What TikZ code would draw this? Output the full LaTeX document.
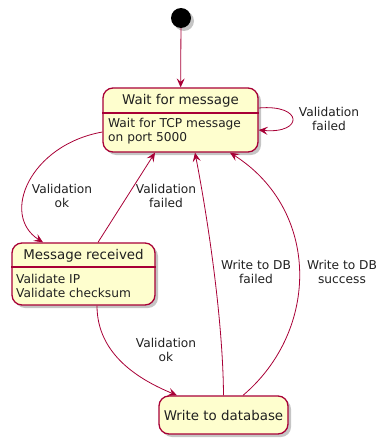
\documentclass[tikz,border=0pt]{standalone}
\usepackage{fontspec}
\setmainfont{DejaVu Sans}
\usepackage{xcolor}
\usepackage{tikz}
\usetikzlibrary{arrows.meta,shadows,calc}
\definecolor{umlred}{HTML}{A80036}
\definecolor{umlfill}{HTML}{FEFECE}
\definecolor{umltext}{HTML}{202020}

\begin{document}
\begin{tikzpicture}[x=1pt,y=-1pt]
                \tikzstyle{state} = [draw=umlred, line width=1.3pt, fill=umlfill, rounded corners=10pt, inner sep=0pt,
                                     drop shadow={shadow xshift=3pt, shadow yshift=-3pt, fill=black!45, opacity=0.5}]
                \tikzstyle{title} = [inner sep=0pt, text=umltext, font=\fontsize{13.4}{15}\selectfont]
                \tikzstyle{body} = [inner sep=0pt, anchor=west, align=left, text=umltext, font=\fontsize{12.2}{14}\selectfont]
                \tikzstyle{lbl} = [inner sep=0pt, align=center, text=umltext, font=\fontsize{12.2}{14}\selectfont]
                \tikzstyle{trans} = [draw=umlred, line width=0.8pt, -{Stealth[length=9pt,width=8pt,inset=3.5pt]}]

                \useasboundingbox (0,0) rectangle (376,439);

                \node [circle, fill=black, minimum size=20pt, inner sep=0pt,
                       drop shadow={shadow xshift=3pt, shadow yshift=-3pt, fill=black!45, opacity=0.5}] (start) at (181,18) {};

                \node [state, minimum width=155pt, minimum height=64pt] (wait) at (180.5,120) {};
                \draw [umlred, line width=1.3pt] (wait.west |- 0,113) -- (wait.east |- 0,113);
                \node [title] (wait-title) at (180.5,100.5) {Wait for message};
                \node [body] (wait-body) at (108,131.5) {Wait for TCP message\\on port 5000};

                \node [state, minimum width=143pt, minimum height=62pt] (msg) at (83.5,274) {};
                \draw [umlred, line width=1.3pt] (msg.west |- 0,267) -- (msg.east |- 0,267);
                \node [title] (msg-title) at (83.5,255.5) {Message received};
                \node [body] (msg-body) at (16,285.5) {Validate IP\\Validate checksum};

                \node [state, minimum width=129pt, minimum height=38pt] (write) at (223.5,415) {};
                \node [title] (write-title) at (223.5,415) {Write to database};

                \draw [trans] (start) -- (wait);
                \draw [trans] ([yshift=12pt]wait.east) .. controls +(45,-4) and +(45,4) .. ([yshift=-10pt]wait.east);
                \draw [trans] ([yshift=-12pt]wait.west) .. controls (30,145) and (0,215) .. ([xshift=-40.5pt]msg.north);
                \draw [trans] ([xshift=14.5pt]msg.north) -- ([xshift=-25.5pt]wait.south);
                \draw [trans] ([xshift=13.5pt]msg.south) .. controls (97,355) and (140,380) .. ([xshift=-46.5pt]write.north);
                \draw [trans] (write.north) .. controls (223,320) and (208,220) .. ([xshift=14.5pt]wait.south);
                \draw [trans] ([xshift=19.5pt]write.north) .. controls (320,330) and (320,210) .. ([xshift=49.5pt]wait.south);

                \node [lbl] (l-loop) at (329,119) {Validation\\failed};
                \node [lbl] (l-ok) at (62,195.5) {Validation\\ok};
                \node [lbl] (l-fail) at (166,196) {Validation\\failed};
                \node [lbl] (l-ok2) at (166,350) {Validation\\ok};
                \node [lbl] (l-dbfail) at (256,272) {Write to DB\\failed};
                \node [lbl] (l-dbok) at (342,272) {Write to DB\\success};
\end{tikzpicture}
\end{document}
